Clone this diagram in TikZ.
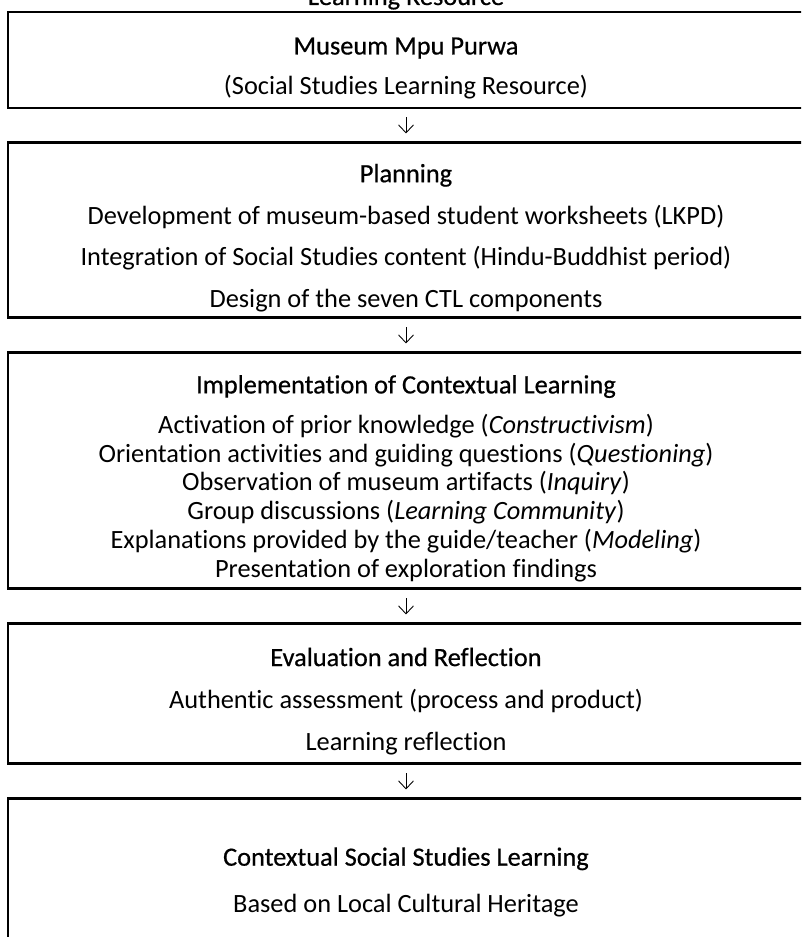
\documentclass[tikz,border=0pt]{standalone}
\usepackage{fontspec}
\setmainfont{Carlito}[Ligatures=NoCommon]
\newfontfamily\headfont{Carlito}[FakeBold=0.6,Ligatures=NoCommon]
\usetikzlibrary{arrows.meta,positioning}

\tikzset{
  stage/.style={draw,line width=1.7pt,minimum width=15.92cm,align=center,
    inner sep=0pt,font=\fontsize{15}{16.4}\selectfont},
  flow/.style={-{Straight Barb[length=1.6mm,width=3mm]},line width=0.5pt,
    shorten <=1.6mm,shorten >=1.6mm}
}
\newcommand{\head}[1]{{\headfont\rule{0pt}{19pt}#1}}

\begin{document}
\begin{tikzpicture}[node distance=0.64cm]
      \useasboundingbox (0,0) rectangle (16.02,-18.74);
      \clip (0,0) rectangle (16.02,-18.74);
      \node[anchor=base,font=\headfont\fontsize{15}{16}\selectfont] (src) at (8.12,-0.1) {Learning Resource};
      \node[stage,minimum height=1.92cm] (res) at (8.12,-1.2)
        {\head{Museum Mpu Purwa}\\[6.3pt]
         (Social Studies Learning Resource)};
      \node[stage,minimum height=3.5cm,below=of res] (plan)
        {\head{Planning}\\[7.4pt]
         Development of museum-based student worksheets (LKPD)\\[7.4pt]
         Integration of Social Studies content (Hindu-Buddhist period)\\[7.4pt]
         Design of the seven CTL components};
      \node[stage,minimum height=4.72cm,below=of plan] (impl)
        {\head{Implementation of Contextual Learning}\\[6.3pt]
         Activation of prior knowledge (\textit{Constructivism})\\
         Orientation activities and guiding questions (\textit{Questioning})\\
         Observation of museum artifacts (\textit{Inquiry})\\
         Group discussions (\textit{Learning Community})\\
         Explanations provided by the guide/teacher (\textit{Modeling})\\
         Presentation of exploration findings};
      \node[stage,minimum height=2.8cm,below=of impl] (eval)
        {\head{Evaluation and Reflection}\\[7.7pt]
         Authentic assessment (process and product)\\[7.7pt]
         Learning reflection};
      \node[stage,minimum height=3.02cm,below=of eval] (ctx)
        {\head{Contextual Social Studies Learning}\\[10pt]
         Based on Local Cultural Heritage};
      \draw[flow] (res) -- (plan);
      \draw[flow] (plan) -- (impl);
      \draw[flow] (impl) -- (eval);
      \draw[flow] (eval) -- (ctx);
    \end{tikzpicture}
\end{document}
